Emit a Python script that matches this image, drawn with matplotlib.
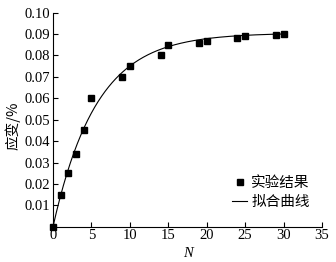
import numpy as np
import matplotlib
matplotlib.use("Agg")
from matplotlib import pyplot as plt

# Données expérimentales
N_exp = [0, 1, 2, 3, 4, 5, 9, 10, 14, 15, 19, 20, 24, 25, 29, 30]
strain_exp = [0.0, 0.015, 0.025, 0.034, 0.045, 0.060, 0.070, 0.075,
              0.080, 0.085, 0.086, 0.087, 0.088, 0.089, 0.0898, 0.090]

# Paramètres de la courbe ajustée : y = a * (1 - exp(-b * N))
fit_a = 0.0905
fit_b = 0.177

x_ticks = [0, 5, 10, 15, 20, 25, 30, 35]
y_ticks = [0.01, 0.02, 0.03, 0.04, 0.05, 0.06, 0.07, 0.08, 0.09, 0.10]

plt.rcParams['font.family'] = ['Liberation Serif', 'Noto Sans CJK SC']
plt.rcParams['font.size'] = 10.5

fig = plt.figure(figsize=(3.36, 2.62), dpi=100)
ax = fig.add_axes([53 / 336, 35.3 / 262, 269 / 336, 214 / 262])

N_fit = np.linspace(0, 30, 200)
ax.plot(N_fit, fit_a * (1 - np.exp(-fit_b * N_fit)), color='black', lw=0.8,
        label='拟合曲线')
ax.plot(N_exp, strain_exp, 's', color='black', markersize=4,
        label='实验结果', clip_on=False, zorder=3)

ax.set_xlim(0, 35)
ax.set_ylim(0, 0.10)
ax.set_xticks(x_ticks)
ax.set_yticks(y_ticks)
ax.set_yticklabels(['%.2f' % v for v in y_ticks])
ax.tick_params(direction='in', length=3.5, width=0.8, pad=2)
for s in ['top', 'right']:
    ax.spines[s].set_visible(False)
ax.spines['left'].set_linewidth(0.8)
ax.spines['bottom'].set_linewidth(0.8)

ax.set_xlabel('N', style='italic', labelpad=3)
ax.set_ylabel('应变/%', family=['Noto Sans CJK SC'])
ax.yaxis.set_label_coords(-0.12, 0.47)

handles, labels = ax.get_legend_handles_labels()
ax.legend(handles[::-1], labels[::-1], loc='center left',
          bbox_to_anchor=(0.64, 0.16), frameon=False,
          prop={'family': ['Noto Sans CJK SC'], 'size': 10.5},
          handlelength=1.0, handletextpad=0.3, borderpad=0, labelspacing=0.3)

plt.savefig('out.png', dpi=100)
